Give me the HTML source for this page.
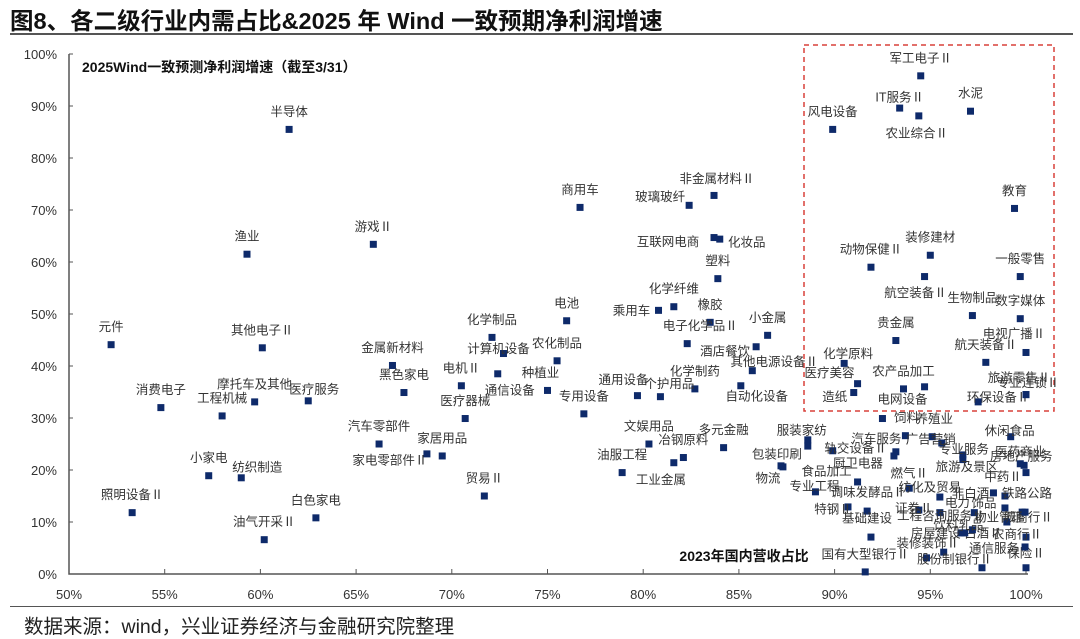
<!DOCTYPE html>
<html><head><meta charset="utf-8">
<style>
html,body{margin:0;padding:0;background:#fff;}
body{width:1080px;height:636px;overflow:hidden;position:relative;font-family:"Liberation Sans","Noto Sans CJK SC",sans-serif;}
#title{position:absolute;left:10px;top:2px;font-size:23.5px;font-weight:bold;color:#111;white-space:nowrap;}
#title-rule{position:absolute;left:10px;top:33px;width:1063px;height:2px;background:#555;}
#foot-rule{position:absolute;left:10px;top:606px;width:1063px;height:1px;background:#555;}
#source{position:absolute;left:24px;top:610px;font-size:19.5px;color:#222;white-space:nowrap;}
svg{position:absolute;left:0;top:0;}
</style></head>
<body>
<div id="title">图8、各二级行业内需占比&amp;2025 年 Wind 一致预期净利润增速</div>
<div id="title-rule"></div>
<svg id="chart" width="1080" height="636"></svg>
<div id="foot-rule"></div>
<div id="source">数据来源：wind，兴业证券经济与金融研究院整理</div>
<script>
const names=["元件","其他电子Ⅱ","消费电子","工程机械","摩托车及其他","医疗服务","金属新材料","黑色家电","化学制品","计算机设备","通信设备","电机Ⅱ","种植业","农化制品","医疗器械","汽车零部件","家居用品","家电零部件Ⅱ","小家电","纺织制造","照明设备Ⅱ","白色家电","油气开采Ⅱ","贸易Ⅱ","半导体","渔业","游戏Ⅱ","商用车","非金属材料Ⅱ","玻璃玻纤","互联网电商","化妆品","塑料","化学纤维","乘用车","橡胶","电子化学品Ⅱ","小金属","酒店餐饮","其他电源设备Ⅱ","化学制药","自动化设备","通用设备","个护用品","专用设备","电池","文娱用品","冶钢原料","多元金融","工业金属","油服工程","包装印刷","物流","服装家纺","纺织服饰","军工电子Ⅱ","IT服务Ⅱ","农业综合Ⅱ","水泥","风电设备","教育","装修建材","动物保健Ⅱ","航空装备Ⅱ","一般零售","生物制品","数字媒体","贵金属","电视广播Ⅱ","航天装备Ⅱ","化学原料","医疗美容","造纸","农产品加工","电网设备","环保设备Ⅱ","专业连锁Ⅱ","旅游零售Ⅱ","饲料","养殖业","汽车服务","广告营销","专业服务","旅游及景区","休闲食品","医药商业","房地产服务","中药Ⅱ","轨交设备Ⅱ","厨卫电器","燃气Ⅱ","食品加工","专业工程","调味发酵品Ⅱ","特钢Ⅱ","基础建设","纺化及贸易","证券Ⅱ","工程咨询服务Ⅱ","电力","饰品","非白酒","铁路公路","物业管理","城商行Ⅱ","白酒Ⅱ","房屋建设Ⅱ","饮料乳品","农商行Ⅱ","装修装饰Ⅱ","股份制银行Ⅱ","国有大型银行Ⅱ","通信服务","保险Ⅱ","环境治理","光学光电子","其他家电"];
const domesticShare=[52.2,60.1,54.8,58.0,59.7,62.5,66.9,67.5,72.1,72.7,72.4,70.5,75.0,75.5,70.7,66.2,69.5,68.7,57.3,59.0,53.3,62.9,60.2,71.7,61.5,59.3,65.9,76.7,83.7,82.4,83.7,84.0,83.9,81.6,80.8,83.5,82.3,86.5,85.9,85.7,82.7,85.1,79.7,80.9,76.9,76.0,80.3,82.1,84.2,81.6,78.9,87.3,87.2,88.6,88.6,94.5,93.4,94.4,97.1,89.9,99.4,95.0,91.9,94.7,99.7,97.2,99.7,93.2,100.0,97.9,90.5,91.2,91.0,93.6,94.7,97.5,100.0,100.0,92.5,95.1,93.7,95.6,96.7,96.7,99.2,99.9,99.7,100.0,89.9,93.1,93.9,91.2,89.0,91.7,90.7,91.9,95.5,94.4,95.5,97.3,98.9,98.3,98.9,99.8,99.0,96.6,96.8,97.2,100.0,95.7,94.8,91.6,97.7,100.0,99.95,99.95,93.2];
const profitGrowth=[44.1,43.5,32.0,30.4,33.1,33.3,40.1,34.9,45.5,42.4,38.5,36.2,35.3,41.0,29.9,25.0,22.7,23.1,18.9,18.5,11.8,10.8,6.6,15.0,85.5,61.5,63.4,70.5,72.8,70.9,64.7,64.4,56.8,51.4,50.7,48.4,44.3,45.9,43.7,39.1,35.6,36.2,34.3,34.1,30.8,48.7,25.0,22.4,24.3,21.4,19.5,20.6,20.8,25.8,24.6,95.8,89.6,88.1,89.0,85.5,70.3,61.3,59.0,57.2,57.2,49.7,49.1,44.9,42.6,40.7,40.5,36.6,34.9,35.6,36.0,33.1,34.5,34.5,29.9,26.4,26.6,25.2,22.9,22.0,26.4,20.9,21.2,19.5,23.7,22.7,16.5,17.7,15.8,12.1,12.9,7.1,14.8,12.3,11.8,11.8,12.7,15.6,15.0,11.9,10.0,7.9,7.9,8.5,7.1,4.2,3.1,0.4,1.2,1.2,11.9,5.2,23.5];
const showLabel=names.map((n,i)=>i<names.length-3 && n!=="纺织服饰");
const xTicks=[50,55,60,65,70,75,80,85,90,95,100];
const yTicks=[0,10,20,30,40,50,60,70,80,90,100];
// label offsets (layout only, px relative to marker)
const labelOffsets={"计算机设备":[-5,-5],"通信设备":[12,16],"种植业":[-7,-18],"家电零部件Ⅱ":[-37,6],"纺织制造":[16,-11],"医疗服务":[6,-12],"非金属材料Ⅱ":[3,-17],"玻璃玻纤":[-29,-9],"互联网电商":[-46,4],"化妆品":[27,3],"乘用车":[-27,0],"电子化学品Ⅱ":[13,-18],"酒店餐饮":[-31,4],"其他电源设备Ⅱ":[22,-9],"自动化设备":[16,10],"通用设备":[-14,-16],"个护用品":[9,-13],"工业金属":[-13,17],"包装印刷":[-6,-13],"物流":[-13,12],"服装家纺":[-6,-10],"IT服务Ⅱ":[0,-11],"农业综合Ⅱ":[-2,17],"航空装备Ⅱ":[-9,16],"电视广播Ⅱ":[-12,-19],"化学原料":[4,-10],"医疗美容":[-28,-11],"造纸":[-19,4],"农产品加工":[0,-18],"电网设备":[-22,12],"环保设备Ⅱ":[20,-5],"专业连锁Ⅱ":[2,-12],"旅游零售Ⅱ":[-7,-17],"饲料":[24,-1],"养殖业":[2,-18],"汽车服务":[-29,3],"广告营销":[-11,-4],"专业服务":[1,-6],"旅游及景区":[4,7],"休闲食品":[-1,-6],"医药商业":[-4,-14],"房地产服务":[1,-8],"中药Ⅱ":[-23,4],"轨交设备Ⅱ":[23,-3],"厨卫电器":[-36,7],"燃气Ⅱ":[0,-15],"食品加工":[-31,-11],"专业工程":[-1,-6],"调味发酵品Ⅱ":[1,-19],"特钢Ⅱ":[-15,2],"基础建设":[-4,-19],"纺化及贸易":[-10,-10],"证券Ⅱ":[-5,-2],"工程咨询服务Ⅱ":[1,3],"电力":[-17,-10],"饰品":[-21,-5],"非白酒":[-23,0],"铁路公路":[22,-3],"物业管理":[-23,5],"城商行Ⅱ":[21,-5],"白酒Ⅱ":[22,0],"房屋建设Ⅱ":[-29,0],"饮料乳品":[-14,-5],"农商行Ⅱ":[-9,-3],"装修装饰Ⅱ":[-16,-9],"股份制银行Ⅱ":[28,1],"通信服务":[12,-20],"保险Ⅱ":[0,-15]};

const X0=69,X1=1026,Y0=574,Y1=54;
function sx(v){return X0+(v-50)/50*(X1-X0);}
function sy(v){return Y0-v/100*(Y0-Y1);}
const svg=document.getElementById('chart');
const NS="http://www.w3.org/2000/svg";
function mk(tag,attrs,parent){const e=document.createElementNS(NS,tag);for(const k in attrs)e.setAttribute(k,attrs[k]);(parent||svg).appendChild(e);return e;}

const box=mk('rect',{x:804,y:45,width:250,height:366,fill:'none',stroke:'#d9403a','stroke-width':1.5,'stroke-dasharray':'5,4'});



const ax=mk('path',{d:`M${X0},${Y1} L${X0},${Y0} L${X1+2},${Y0}`,fill:'none',stroke:'#555','stroke-width':1.5});


xTicks.forEach(t=>{
  const tk=mk('line',{x1:sx(t),x2:sx(t),y1:Y0,y2:Y0-5,stroke:'#555','stroke-width':1});
  
  
  const tl=mk('text',{x:sx(t),y:Y0+25,'text-anchor':'middle','font-size':13,fill:'#333'});
  tl.textContent=t+'%';
  
  
});
yTicks.forEach(t=>{
  const tk=mk('line',{x1:X0,x2:X0+4,y1:sy(t),y2:sy(t),stroke:'#555','stroke-width':1});
  
  
  const tl=mk('text',{x:57,y:sy(t)+5,'text-anchor':'end','font-size':13,fill:'#333'});
  tl.textContent=t+'%';
  
  
});
const yt=mk('text',{x:82,y:72,'font-size':14,'font-weight':'bold',fill:'#111'});
yt.textContent='2025Wind一致预测净利润增速（截至3/31）';


const xt=mk('text',{x:744,y:561,'font-size':14,'font-weight':'bold','text-anchor':'middle',fill:'#111'});
xt.textContent='2023年国内营收占比';



names.forEach((n,i)=>{
  const cx=sx(domesticShare[i]),cy=sy(profitGrowth[i]);
  const p=mk('rect',{x:cx-3.5,y:cy-3.5,width:7,height:7,fill:'#0e2a6a'});
  
  
  if(showLabel[i]){
    const o=labelOffsets[n]||[0,-18];
    const t=mk('text',{x:cx+o[0],y:cy+o[1]+4.5,'text-anchor':'middle','font-size':12.5,fill:'#333'});
    t.textContent=n.replace('房屋建设Ⅱ','房屋建设');
    
    
  }
});
</script>
</body></html>
